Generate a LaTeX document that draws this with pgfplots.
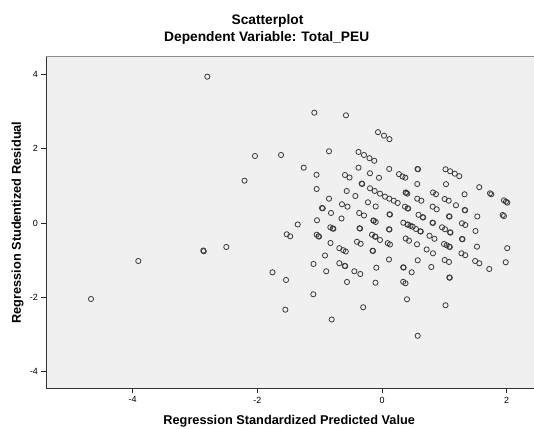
\documentclass[border=0pt]{standalone}
\usepackage{pgfplots}
\pgfplotsset{compat=1.18}
\usepackage{fontspec}
\setmainfont{Liberation Sans}
\definecolor{bg}{HTML}{F0F0F0}
\definecolor{framec}{HTML}{8C8C8C}
\begin{document}
\begin{tikzpicture}[x=1bp,y=1bp]
\useasboundingbox (0,0) rectangle (534,428);
\begin{axis}[
  at={(46.3bp,39.7bp)}, anchor=south west,
  width=488.7bp, height=331.6bp, scale only axis,
  xmin=-5.386, xmax=2.455, ymin=-4.444, ymax=4.470,
  axis background/.style={fill=bg},
  axis line style={draw=framec, line width=0.7bp},
  xtick={-4,-2,0,2}, xticklabels={-4,-2,0,2},
  ytick={-4,-2,0,2,4}, yticklabels={-4,-2,0,2,4},
  tick pos=left,
  tick align=outside,
  major tick length=5bp,
  every tick/.style={black!85, line width=0.8bp},
  tick label style={font=\fontsize{9}{10}\selectfont, black},
  clip=false,
]
\addplot[only marks, mark=o, mark size=2.6bp, mark options={draw=black!78, line width=0.8bp}] table {
x y
-4.669 -2.043
-3.910 -1.022
-2.867 -0.739
-2.860 -0.760
-2.498 -0.645
-2.803 3.933
-2.206 1.137
-2.038 1.801
-1.620 1.828
-1.757 -1.325
-1.540 -1.532
-1.551 -2.331
-1.529 -0.304
-1.473 -0.358
-1.352 -0.040
-1.256 1.487
-1.086 2.965
-1.051 1.296
-1.048 0.914
-0.850 1.927
-0.850 0.653
-0.963 0.403
-0.950 0.395
-0.818 0.269
-1.043 0.073
-1.048 -0.315
-1.019 -0.358
-1.010 -0.365
-0.829 -0.116
-0.791 -0.148
-0.780 -0.155
-0.826 -0.538
-0.914 -0.874
-1.099 -1.102
-0.895 -1.298
-1.102 -1.917
-0.807 -2.594
-0.578 2.895
-0.594 1.290
-0.521 1.223
-0.566 0.860
-0.642 0.503
-0.553 0.438
-0.650 0.121
-0.685 -0.677
-0.622 -0.731
-0.581 -0.766
-0.685 -1.081
-0.598 -1.151
-0.590 -1.160
-0.562 -1.586
-0.377 1.909
-0.289 1.828
-0.201 1.742
-0.124 1.672
-0.377 1.487
-0.326 1.059
-0.318 1.050
-0.428 0.726
-0.366 0.269
-0.289 0.202
-0.361 -0.142
-0.352 -0.150
-0.401 -0.505
-0.342 -0.559
-0.444 -1.298
-0.348 -1.371
-0.302 -2.266
-0.193 1.336
-0.048 1.215
-0.193 0.933
-0.117 0.860
-0.032 0.788
-0.225 0.556
-0.101 0.444
-0.140 0.067
-0.132 0.060
-0.101 0.027
-0.160 -0.315
-0.112 -0.363
-0.104 -0.370
-0.032 -0.457
-0.152 -0.745
-0.144 -0.752
-0.091 -1.202
-0.104 -1.605
-0.064 2.441
0.032 2.347
0.120 2.253
0.048 0.707
0.117 0.653
0.188 0.599
0.116 1.452
0.120 0.234
0.128 0.226
0.112 -0.169
0.120 -0.176
0.091 -0.543
0.128 -0.578
0.112 -0.981
0.252 0.538
0.273 1.312
0.329 1.250
0.374 1.218
0.380 0.820
0.388 0.812
0.406 0.788
0.369 0.438
0.412 0.395
0.420 0.388
0.342 0.008
0.409 -0.040
0.417 -0.048
0.457 -0.075
0.493 -0.099
0.545 -0.161
0.614 -0.223
0.622 -0.230
0.380 -0.417
0.433 -0.476
0.340 -1.191
0.348 -1.198
0.476 -1.325
0.340 -1.581
0.377 -1.621
0.401 -2.051
0.570 1.452
0.578 1.445
0.566 1.048
0.566 0.653
0.631 0.599
0.586 0.220
0.653 0.156
0.661 0.148
0.562 -0.573
0.573 -1.003
0.573 -3.032
0.762 -0.344
0.842 -0.425
0.717 -0.712
0.818 -0.815
0.791 -1.183
0.810 0.008
0.818 0.000
0.818 0.820
0.866 0.774
0.813 0.438
0.878 0.368
1.019 1.444
1.094 1.390
1.168 1.325
1.240 1.258
1.027 1.043
1.006 0.645
1.070 0.599
1.075 0.180
1.083 0.172
0.963 -0.116
1.011 -0.169
1.091 -0.250
1.099 -0.258
0.995 -0.565
1.038 -0.599
1.080 -0.637
1.088 -0.645
1.006 -0.995
1.075 -1.048
1.080 -1.465
1.088 -1.472
1.019 -2.212
1.187 0.476
1.324 0.772
1.327 0.349
1.335 0.341
1.283 -0.008
1.336 -0.054
1.283 -0.430
1.291 -0.437
1.275 -0.815
1.335 -0.866
1.561 0.962
1.733 0.798
1.754 0.772
1.529 0.175
1.500 -0.215
1.524 -0.637
1.495 -1.022
1.561 -1.083
1.721 -1.237
1.957 0.610
1.989 0.573
2.010 0.546
1.936 0.215
1.957 0.188
2.009 -0.677
1.985 -1.056
};
\draw[black!80, line width=1.4bp] (rel axis cs:0,1) -- (rel axis cs:0,0) -- (rel axis cs:1,0);
\end{axis}
\node[font=\fontsize{13.8}{16}\selectfont\bfseries, anchor=base] at (267.5,403) {Scatterplot};
\node[font=\fontsize{13.8}{16}\selectfont\bfseries, anchor=base] at (266.7,386.7) {Dependent Variable: Total\_PEU};
\node[font=\fontsize{12.8}{15}\selectfont\bfseries, anchor=base] at (289.2,3.7) {Regression Standardized Predicted Value};
\node[font=\fontsize{12.8}{15}\selectfont\bfseries, rotate=90, anchor=center] at (17.5,205.5) {Regression Studentized Residual};
\end{tikzpicture}
\end{document}
